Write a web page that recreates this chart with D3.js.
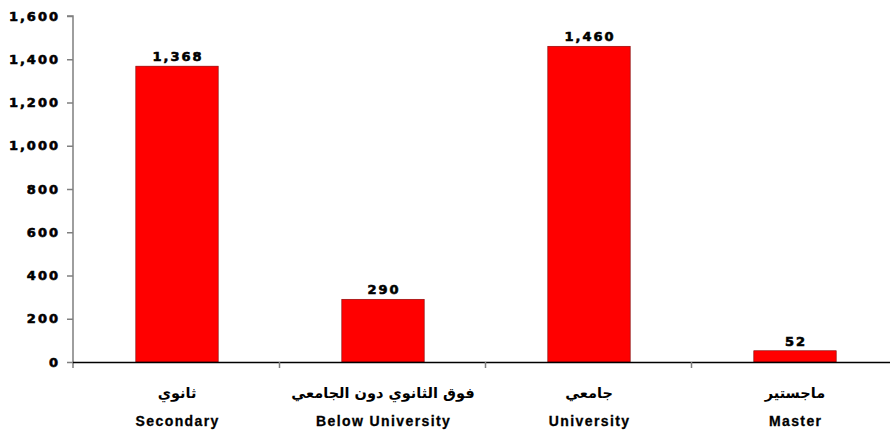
<!DOCTYPE html>
<html><head><meta charset="utf-8">
<script src="https://cdn.jsdelivr.net/npm/d3@7"></script>
<style>body{margin:0;background:#fff}svg{display:block}</style>
</head><body>
<svg id="c" width="890" height="430"></svg>
<script>
const categoriesAr = ["ثانوي", "فوق الثانوي دون الجامعي", "جامعي", "ماجستير"];
const categoriesEn = ["Secondary", "Below University", "University", "Master"];
const values = [1368, 290, 1460, 52];
const yTicks = [0, 200, 400, 600, 800, 1000, 1200, 1400, 1600];

const svg = d3.select("#c");
const x0 = 74, x1 = 898, yTop = 16, yBot = 362;
const x = d3.scaleBand().domain(categoriesEn).range([x0, x1]).paddingInner(0.6).paddingOuter(0.3);
const y = d3.scaleLinear().domain([0, 1600]).range([yBot, yTop]);
const fmt = d3.format(",");
const numFont = "'DejaVu Sans', sans-serif";

// y axis
const ya = svg.append("g").attr("transform", `translate(${x0 - 1},0)`)
  .call(d3.axisLeft(y).tickValues(yTicks).tickFormat(fmt).tickSize(6).tickPadding(7));
ya.select(".domain").attr("stroke", "#7f7f7f").attr("stroke-width", 1.5).attr("d", `M-6,${yTop}H0V${yBot + 6}`);
ya.selectAll(".tick line").attr("stroke", "#7f7f7f").attr("stroke-width", 1.5);
ya.selectAll(".tick text").attr("font-family", numFont).attr("font-weight", "bold")
  .attr("font-size", 13).attr("fill", "#000").attr("stroke", "#000").attr("stroke-width", 0.6)
  .attr("letter-spacing", "2px");

// bars
svg.append("g").selectAll("rect").data(values).join("rect")
  .attr("x", (d, i) => x(categoriesEn[i]))
  .attr("y", d => y(d))
  .attr("width", x.bandwidth())
  .attr("height", d => yBot - y(d))
  .attr("fill", "#ff0000").attr("stroke", "#800000").attr("stroke-width", 0.6);

// x axis
const step = x.step();
svg.append("line").attr("x1", x0 - 1).attr("x2", 890).attr("y1", yBot + 0.5).attr("y2", yBot + 0.5)
  .attr("stroke", "#000").attr("stroke-width", 1.5);
svg.append("g").selectAll("line").data(categoriesEn.slice(1)).join("line")
  .attr("x1", d => x(d) - x.paddingInner() * step / 2 - 0.5)
  .attr("x2", d => x(d) - x.paddingInner() * step / 2 - 0.5)
  .attr("y1", yBot).attr("y2", yBot + 6)
  .attr("stroke", "#7f7f7f").attr("stroke-width", 1.5);

// value labels
svg.append("g").selectAll("text").data(values).join("text")
  .attr("x", (d, i) => x(categoriesEn[i]) + x.bandwidth() / 2 + 1)
  .attr("y", d => y(d) - 5)
  .attr("text-anchor", "middle").attr("font-family", numFont).attr("font-weight", "bold")
  .attr("font-size", 13).attr("stroke", "#000").attr("stroke-width", 0.6)
  .attr("letter-spacing", "2px").text(d => fmt(d));

// category labels
svg.append("g").selectAll("text").data(categoriesAr).join("text")
  .attr("x", (d, i) => x(categoriesEn[i]) + x.bandwidth() / 2)
  .attr("y", 398).attr("text-anchor", "middle").attr("direction", "rtl")
  .attr("font-family", "'DejaVu Sans', sans-serif").attr("font-weight", "bold")
  .attr("font-size", 14.5).text(d => d);
svg.append("g").selectAll("text").data(categoriesEn).join("text")
  .attr("x", d => x(d) + x.bandwidth() / 2 + 0.7)
  .attr("y", 426).attr("text-anchor", "middle")
  .attr("font-family", "'Liberation Sans', Arial, sans-serif").attr("font-weight", "bold")
  .attr("font-size", 14).attr("stroke", "#000").attr("stroke-width", 0.3)
  .attr("letter-spacing", "1.4px").text(d => d);
</script>
</body></html>
